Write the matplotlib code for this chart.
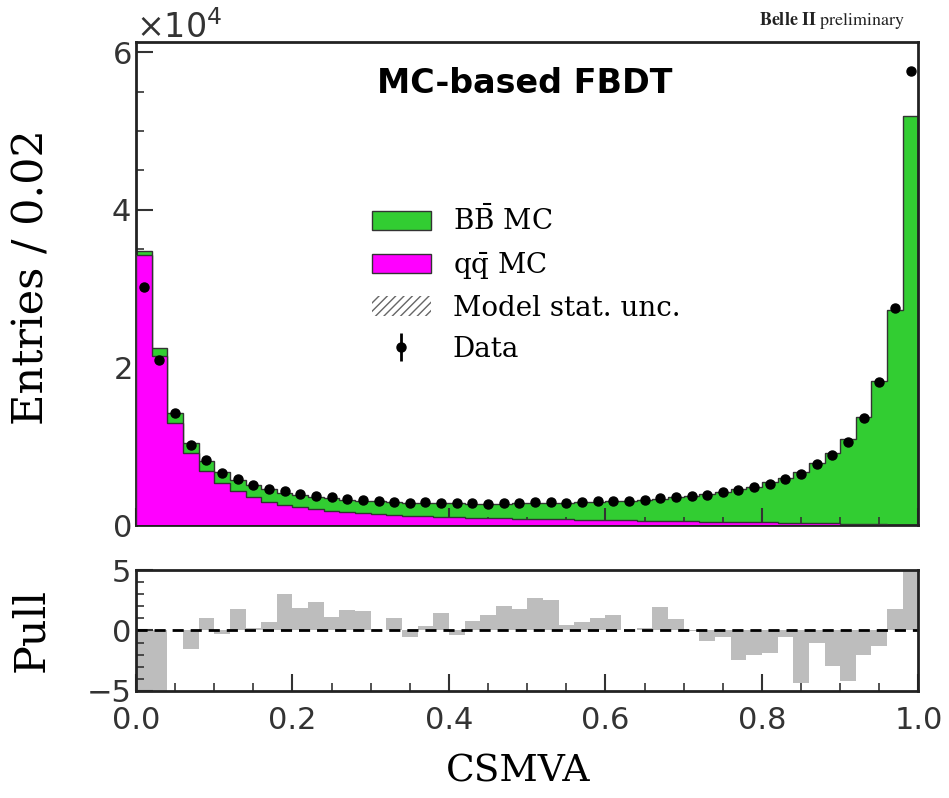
import numpy as np
import matplotlib
matplotlib.use("Agg")
import matplotlib.pyplot as plt
from matplotlib.patches import Patch
from matplotlib.ticker import MultipleLocator

# 50 bins of width 0.02 on CSMVA
edges = np.linspace(0.0, 1.0, 51)

# entries per bin (x1e4)
data_e4 = [3.02, 2.09, 1.42, 1.015, 0.825, 0.664, 0.58, 0.508, 0.457, 0.427,
           0.389, 0.368, 0.352, 0.328, 0.315, 0.302, 0.294, 0.281, 0.286, 0.281,
           0.281, 0.274, 0.272, 0.283, 0.285, 0.286, 0.289, 0.281, 0.294, 0.300,
           0.309, 0.307, 0.322, 0.345, 0.357, 0.373, 0.387, 0.416, 0.440, 0.476,
           0.525, 0.590, 0.648, 0.772, 0.893, 1.057, 1.354, 1.817, 2.760, 5.765]

mc_total_e4 = [3.48, 2.24, 1.42, 1.037, 0.816, 0.667, 0.565, 0.505, 0.452, 0.410,
               0.380, 0.355, 0.340, 0.318, 0.305, 0.300, 0.286, 0.283, 0.284, 0.275,
               0.280, 0.270, 0.267, 0.272, 0.276, 0.273, 0.279, 0.279, 0.291, 0.297,
               0.303, 0.307, 0.316, 0.335, 0.352, 0.372, 0.392, 0.418, 0.452, 0.488,
               0.540, 0.595, 0.668, 0.782, 0.910, 1.090, 1.370, 1.830, 2.730, 5.190]

qq_e4 = [3.43, 2.14, 1.30, 0.91, 0.69, 0.537, 0.435, 0.36, 0.296, 0.254,
         0.225, 0.200, 0.180, 0.165, 0.150, 0.138, 0.128, 0.120, 0.113, 0.107,
         0.100, 0.095, 0.090, 0.086, 0.082, 0.078, 0.074, 0.071, 0.068, 0.065,
         0.062, 0.059, 0.056, 0.053, 0.050, 0.047, 0.044, 0.041, 0.038, 0.035,
         0.032, 0.029, 0.026, 0.023, 0.020, 0.017, 0.013, 0.009, 0.005, 0.002]

pulls = [-12.0, -6.5, 0.05, -1.5, 1.0, -0.3, 1.78, 0.2, 0.7, 3.03,
         1.85, 2.35, 1.1, 1.68, 1.6, 0.02, 1.06, -0.57, 0.4, 1.42,
         -0.37, 0.75, 1.28, 2.05, 1.78, 2.65, 2.52, 0.43, 0.72, 1.0,
         1.29, 0.02, 0.21, 1.97, 0.93, -0.03, -0.87, -0.57, -2.45, -2.05,
         -1.85, -0.5, -4.33, -1.06, -2.92, -4.21, -2.0, -1.28, 1.77, 9.0]

data = np.array(data_e4) * 1e4
mc_total = np.array(mc_total_e4) * 1e4
qq = np.array(qq_e4) * 1e4
centers = 0.5 * (edges[:-1] + edges[1:])

green = "#32cd32"
magenta = "#ff00ff"
serif = "DejaVu Serif"

plt.rcParams["mathtext.fontset"] = "dejavuserif"
plt.rcParams["xtick.direction"] = "in"
plt.rcParams["ytick.direction"] = "in"

fig = plt.figure(figsize=(9.49, 7.98), dpi=100)
ax = fig.add_axes([0.1433, 0.3421, 0.8245, 0.6053])
axp = fig.add_axes([0.1433, 0.1341, 0.8245, 0.1516], sharex=ax)

# stacked MC
ax.stairs(mc_total, edges, fill=True, color=green, zorder=1)
ax.stairs(mc_total, edges, color="#333333", lw=1.0, zorder=2)
ax.stairs(qq, edges, fill=True, color=magenta, zorder=3)
ax.stairs(qq, edges, color="#333333", lw=1.0, zorder=4)

# data
data_eb = ax.errorbar(centers, data, yerr=np.sqrt(data), fmt="o", color="black",
                      markersize=6.5, elinewidth=2, capsize=0, zorder=5)

ax.set_xlim(0, 1)
ax.set_ylim(0, 6.13e4)
ax.ticklabel_format(axis="y", style="sci", scilimits=(4, 4), useMathText=True)
ax.yaxis.get_offset_text().set_fontsize(24)
ax.yaxis.set_major_locator(MultipleLocator(2e4))
ax.yaxis.set_minor_locator(MultipleLocator(0.5e4))
ax.xaxis.set_major_locator(MultipleLocator(0.2))
ax.xaxis.set_minor_locator(MultipleLocator(0.05))
ax.tick_params(axis="x", labelbottom=False)
ax.set_ylabel("Entries / 0.02", fontsize=31, family=serif)
ax.yaxis.set_label_coords(-0.107, 0.513)

ax.text(0.497, 0.915, "MC-based FBDT", transform=ax.transAxes, ha="center",
        va="center", fontsize=24, fontweight="bold")

handles = [
    Patch(facecolor=green, edgecolor="#333333", lw=1.0),
    Patch(facecolor=magenta, edgecolor="#333333", lw=1.0),
    Patch(facecolor="none", edgecolor="#666666", hatch="////", lw=0),
    data_eb,
]
labels = [r"$\mathrm{B\bar{B}}$ MC", r"$\mathrm{q\bar{q}}$ MC",
          "Model stat. unc.", "Data"]
leg = ax.legend(handles, labels, loc="upper left", bbox_to_anchor=(0.27, 0.713),
                frameon=False, prop={"family": serif, "size": 20},
                handlelength=2.1, handletextpad=0.8, labelspacing=0.50)

fig.text(0.954, 0.974, r"$\mathbf{Belle\ II}\ \mathrm{preliminary}$", ha="right",
         va="center", fontsize=13, math_fontfamily="stix", color="#222222")

# pull panel
axp.bar(edges[:-1], pulls, width=0.02, align="edge", color="#bdbdbd", lw=0)
axp.axhline(0, color="black", ls=(0, (4, 2.5)), lw=2)
axp.set_ylim(-5, 5)
axp.yaxis.set_major_locator(MultipleLocator(5))
axp.yaxis.set_minor_locator(MultipleLocator(1))
axp.set_xlabel("CSMVA", fontsize=27, family=serif, labelpad=13)
axp.xaxis.label.set_x(0.489)
axp.set_ylabel("Pull", fontsize=31, family=serif)
axp.yaxis.set_label_coords(-0.107, 0.5)

for a in (ax, axp):
    a.tick_params(which="major", length=12, width=1.5, labelsize=22, colors="#333333")
    a.tick_params(which="minor", length=6, width=1.2, colors="#333333")
    a.tick_params(axis="both", labelcolor="#333333")
    for s in a.spines.values():
        s.set_linewidth(2)
        s.set_color("#222222")
axp.tick_params(axis="x", which="major", pad=11)

fig.savefig("out.png", dpi=100)
